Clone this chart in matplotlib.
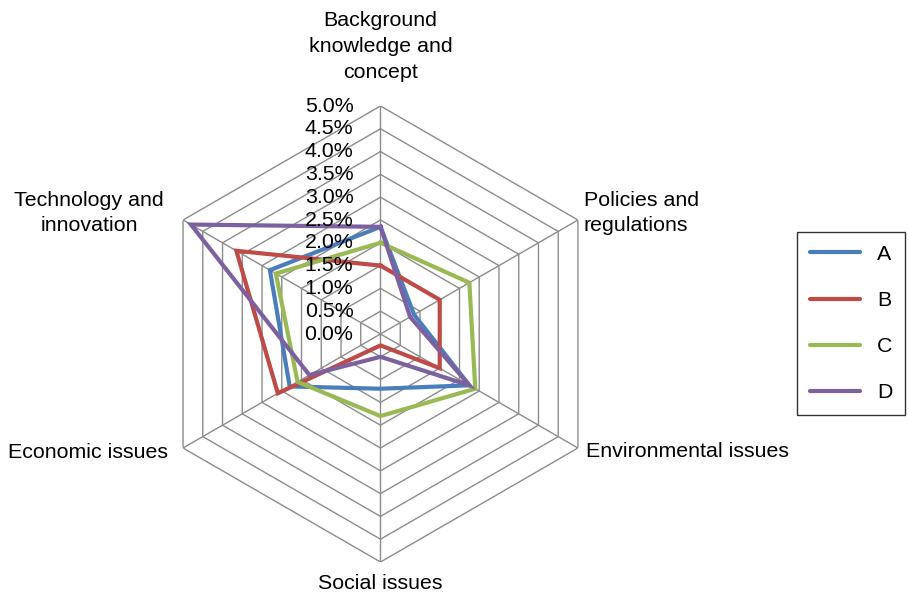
import matplotlib.pyplot as plt
import numpy as np

plt.rcParams['font.family'] = ['Liberation Sans', 'DejaVu Sans']

# Categories, clockwise from the top
categories = ['Background\nknowledge and\nconcept', 'Policies and\nregulations',
              'Environmental issues', 'Social issues', 'Economic issues',
              'Technology and\ninnovation']

# Shares per category (%)
series_a = [2.35, 0.85, 2.25, 1.2, 2.3, 2.8]
series_b = [1.5, 1.5, 1.5, 0.25, 2.6, 3.65]
series_c = [2.0, 2.25, 2.4, 1.8, 2.1, 2.65]
series_d = [2.35, 0.75, 2.25, 0.5, 1.8, 4.8]
series_names = ['A', 'B', 'C', 'D']
colors = ['#4A7EBB', '#BE4B48', '#98B954', '#7D60A0']

ticks = np.arange(0, 5.01, 0.5)
tick_labels = ['%.1f%%' % t for t in ticks]

W, H = 909, 599
fig = plt.figure(figsize=(W / 100, H / 100), dpi=100)
cx, cy, rad = 380.5, 334, 228
ax = fig.add_axes([(cx - rad) / W, (H - cy - rad) / H, 2 * rad / W, 2 * rad / H],
                  projection='polar')
ax.set_theta_offset(np.pi / 2)
ax.set_theta_direction(-1)
ax.set_ylim(0, 5)
ax.grid(False)
ax.set_xticks([])
ax.set_yticks([])
ax.spines['polar'].set_visible(False)
ax.patch.set_visible(False)

n = len(categories)
angles = np.linspace(0, 2 * np.pi, n, endpoint=False)
closed = np.append(angles, angles[0])

# hexagonal grid rings and spokes
grid_col = '#8c8c8c'
for r in ticks[1:]:
    ax.plot(closed, [r] * (n + 1), color=grid_col, lw=1, zorder=1)
for a in angles:
    ax.plot([a, a], [0, 5], color=grid_col, lw=1, zorder=1)

# data series
for vals, name, col in zip([series_a, series_b, series_c, series_d], series_names, colors):
    ax.plot(closed, vals + vals[:1], color=col, lw=3, label=name, zorder=3,
            solid_joinstyle='miter')

fs = 15.4

# radial tick labels along the top spoke
for t, lab in zip(ticks, tick_labels):
    ax.annotate(lab, xy=(0, t), xytext=(-27, 0), textcoords='offset pixels',
                ha='right', va='center', fontsize=fs, zorder=4)

# category labels
ax.annotate(categories[0], xy=(angles[0], 5), xytext=(0, 24), textcoords='offset pixels',
            ha='center', va='bottom', fontsize=fs, linespacing=1.45)
ax.annotate(categories[1], xy=(angles[1], 5), xytext=(6, 7), textcoords='offset pixels',
            ha='left', va='center', fontsize=fs, linespacing=1.45)
ax.annotate(categories[2], xy=(angles[2], 5), xytext=(8, -4), textcoords='offset pixels',
            ha='left', va='center', fontsize=fs)
ax.annotate(categories[3], xy=(angles[3], 5), xytext=(0, -12), textcoords='offset pixels',
            ha='center', va='top', fontsize=fs)
ax.annotate(categories[4], xy=(angles[4], 5), xytext=(-15, -4), textcoords='offset pixels',
            ha='right', va='center', fontsize=fs)
ax.annotate(categories[5], xy=(angles[5], 5), xytext=(-19, 7), textcoords='offset pixels',
            ha='right', va='center', fontsize=fs, linespacing=1.45,
            multialignment='center')

leg = fig.legend(loc='upper left', bbox_to_anchor=(797 / W, 1 - 232 / H),
                 frameon=True, fancybox=False, fontsize=fs, handlelength=2.35,
                 handletextpad=0.8, labelspacing=1.27, borderpad=0.6,
                 borderaxespad=0)
leg.get_frame().set_edgecolor('black')
leg.get_frame().set_linewidth(1)
for line in leg.get_lines():
    line.set_solid_capstyle('round')

fig.savefig('out.png', dpi=100)
